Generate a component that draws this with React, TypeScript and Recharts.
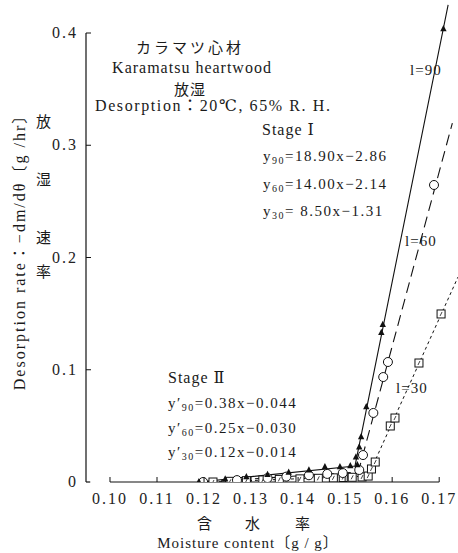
import React from 'react'
import { ComposedChart, Line, Scatter, XAxis, YAxis, ReferenceLine } from 'recharts'

// broken x axis: origin sits left of 0.10
const X_MIN = 0.0949
const X_MAX = 0.174
const Y_MAX = 0.4294

const xTicks = [0.1, 0.11, 0.12, 0.13, 0.14, 0.15, 0.16, 0.17]
const yTicks = [0, 0.1, 0.2, 0.3, 0.4]

// l=90 (triangles)
const tri90: [number, number][] = [
    [0.1189, 0], [0.1245, 0.0025], [0.129, 0.0045], [0.1335, 0.0065], [0.138, 0.0085],
    [0.1423, 0.0105], [0.1457, 0.0134], [0.1489, 0.0134], [0.1511, 0.0143], [0.1526, 0.0152],
    [0.1523, 0.022], [0.153, 0.031], [0.1534, 0.04], [0.1545, 0.0668], [0.1577, 0.133],
    [0.158, 0.14], [0.1709, 0.4036],
]
// l=60 (circles)
const circ60: [number, number][] = [
    [0.1198, 0], [0.127, 0.0017], [0.1335, 0.0035], [0.1375, 0.0048], [0.1423, 0.006],
    [0.1462, 0.0072], [0.1495, 0.008], [0.153, 0.0107], [0.1538, 0.024], [0.156, 0.0615],
    [0.1581, 0.0935], [0.1591, 0.1069], [0.1689, 0.2646],
]
// l=30 (squares)
const sq30: [number, number][] = [
    [0.1219, 0], [0.1255, 0.0006], [0.129, 0.0012], [0.1325, 0.0018], [0.136, 0.0023],
    [0.1404, 0.0028], [0.1443, 0.0033], [0.1475, 0.0037], [0.1496, 0.004], [0.1515, 0.0042],
    [0.1536, 0.0045], [0.1549, 0.0053], [0.1556, 0.0116], [0.1564, 0.0178], [0.1596, 0.0499],
    [0.1606, 0.057], [0.1657, 0.106], [0.1704, 0.1497],
]

// fitted lines, stage II then stage I
const fit90: [number, number][] = [[0.1189, 0], [0.1521, 0.0143], [0.1719, 0.425]]
const fit60: [number, number][] = [[0.12, 0], [0.1528, 0.0089], [0.1728, 0.3198]]
const fit30: [number, number][] = [[0.1219, 0], [0.1549, 0.0053], [0.174, 0.1826]]

const toPts = (arr: [number, number][]) => arr.map(([x, y]) => ({ x, y }))

const serif = '"Liberation Serif", "DejaVu Serif", "Noto Sans CJK JP", serif'
const cjk = '"Noto Sans CJK JP", sans-serif'

const Triangle = (props: any) => {
    const { cx, cy } = props
    return <path d={`M${cx},${cy - 4} L${cx - 3.2},${cy + 2.2} L${cx + 3.2},${cy + 2.2} Z`} fill="#111" />
}
const OpenCircle = (props: any) => {
    const { cx, cy } = props
    return <circle cx={cx} cy={cy} r={4.5} fill="#fff" stroke="#111" strokeWidth={1} />
}
const OpenSquare = (props: any) => {
    const { cx, cy } = props
    return (
        <g>
            <rect x={cx - 4} y={cy - 4} width={8} height={8} fill="#fff" stroke="#111" strokeWidth={1} />
            <line x1={cx - 1} y1={cy + 2} x2={cx + 1} y2={cy - 2} stroke="#111" strokeWidth={0.8} />
        </g>
    )
}

const XTick = (props: any) => {
    const { x, y, payload } = props
    return (
        <g>
            <line x1={x} y1={y} x2={x} y2={y - 5} stroke="#111" />
            <text x={x} y={y + 22} textAnchor="middle" fontSize={16} fontFamily={serif} letterSpacing={2} fill="#222">
                {payload.value.toFixed(2)}
            </text>
        </g>
    )
}
const YTick = (props: any) => {
    const { x, y, payload } = props
    const v = payload.value
    return (
        <g>
            {v > 0 && <line x1={x} y1={y} x2={x + 5} y2={y} stroke="#111" />}
            <text x={x - 8} y={y + 5} textAnchor="end" fontSize={16} fontFamily={serif} letterSpacing={2} fill="#222">
                {v === 0 ? '0' : v.toFixed(1)}
            </text>
        </g>
    )
}

const T = ({ x, y, children, size = 15, spacing = 1, font = serif, center = false }: any) => (
    <div style={{
        position: 'absolute', left: x, top: y, fontSize: size, fontFamily: font, letterSpacing: spacing,
        whiteSpace: 'nowrap', lineHeight: 1, color: '#1a1a1a',
        transform: center ? 'translate(-50%, -50%)' : 'translateY(-50%)',
    }}>{children}</div>
)
const Sub = ({ children }: any) => <span style={{ fontSize: 10, verticalAlign: -3 }}>{children}</span>

export default function App() {
    return (
        <div style={{ position: 'absolute', left: 0, top: 0, width: 458, height: 553, background: '#fff' }}>
            <ComposedChart width={458} height={553} margin={{ top: 0, right: 0, bottom: 41, left: 0 }}>
                <XAxis dataKey="x" type="number" domain={[X_MIN, X_MAX]} ticks={xTicks} allowDataOverflow
                    axisLine={false} tickLine={false} tickSize={0} tickMargin={0} height={30} tick={<XTick />} interval={0} />
                <YAxis dataKey="y" type="number" domain={[0, Y_MAX]} ticks={yTicks} allowDataOverflow
                    axisLine={false} tickLine={false} tickSize={0} tickMargin={0} width={86} tick={<YTick />} interval={0} />
                {/* axis lines, with the break between origin and 0.10 */}
                <ReferenceLine segment={[{ x: X_MIN, y: 0 }, { x: X_MIN, y: 0.4 }]} stroke="#111" strokeWidth={1.2} />
                <ReferenceLine segment={[{ x: X_MIN, y: 0 }, { x: 0.0958, y: 0 }]} stroke="#111" strokeWidth={1.2} />
                <ReferenceLine segment={[{ x: 0.1, y: 0 }, { x: 0.17, y: 0 }]} stroke="#111" strokeWidth={1.2} />

                <Line data={toPts(fit90)} dataKey="y" stroke="#111" strokeWidth={1.1} dot={false} isAnimationActive={false} />
                <Line data={toPts(fit60)} dataKey="y" stroke="#111" strokeWidth={1.1} strokeDasharray="11 6" dot={false} isAnimationActive={false} />
                <Line data={toPts(fit30)} dataKey="y" stroke="#111" strokeWidth={1} strokeDasharray="3 3" dot={false} isAnimationActive={false} />

                <Scatter data={toPts(sq30)} shape={<OpenSquare />} isAnimationActive={false} />
                <Scatter data={toPts(circ60)} shape={<OpenCircle />} isAnimationActive={false} />
                <Scatter data={toPts(tri90)} shape={<Triangle />} isAnimationActive={false} />
            </ComposedChart>

            {/* header block */}
            <T x={190} y={46} center font={cjk} size={15} spacing={3}>カラマツ心材</T>
            <T x={192} y={68} center size={16}>Karamatsu heartwood</T>
            <T x={190} y={88} center font={cjk} size={15}>放湿</T>
            <T x={95} y={106} size={16} spacing={1.6}>Desorption：20℃, 65% R. H.</T>

            <T x={262} y={130} size={16}>Stage Ⅰ</T>
            <T x={263} y={157} size={15} spacing={1.5}>y<Sub>90</Sub>=18.90x−2.86</T>
            <T x={263} y={185} size={15} spacing={1.5}>y<Sub>60</Sub>=14.00x−2.14</T>
            <T x={263} y={212} size={15} spacing={1.5}>y<Sub>30</Sub>= 8.50x−1.31</T>

            <T x={410} y={70} size={15}>l=90</T>
            <T x={405} y={241} size={15}>l=60</T>
            <T x={396} y={388} size={15}>l=30</T>

            <T x={168} y={378} size={16}>Stage Ⅱ</T>
            <T x={168} y={404} size={15} spacing={1.5}>y′<Sub>90</Sub>=0.38x−0.044</T>
            <T x={168} y={429} size={15} spacing={1.5}>y′<Sub>60</Sub>=0.25x−0.030</T>
            <T x={168} y={453} size={15} spacing={1.5}>y′<Sub>30</Sub>=0.12x−0.014</T>

            {/* axis titles */}
            <T x={205} y={522} center font={cjk} size={15}>含</T>
            <T x={253} y={522} center font={cjk} size={15}>水</T>
            <T x={303} y={522} center font={cjk} size={15}>率</T>
            <T x={248} y={543} center size={15}>Moisture content〔g / g〕</T>

            <div style={{
                position: 'absolute', left: 20, top: 248, transform: 'translate(-50%, -50%) rotate(-90deg)',
                fontFamily: serif, fontSize: 16, letterSpacing: 2, whiteSpace: 'nowrap', lineHeight: 1, color: '#1a1a1a',
            }}>Desorption rate：−dm/dθ〔g /hr〕</div>
            <T x={44} y={120} center font={cjk} size={15}>放</T>
            <T x={44} y={178} center font={cjk} size={15}>湿</T>
            <T x={44} y={236} center font={cjk} size={15}>速</T>
            <T x={44} y={270} center font={cjk} size={15}>率</T>
        </div>
    )
}
